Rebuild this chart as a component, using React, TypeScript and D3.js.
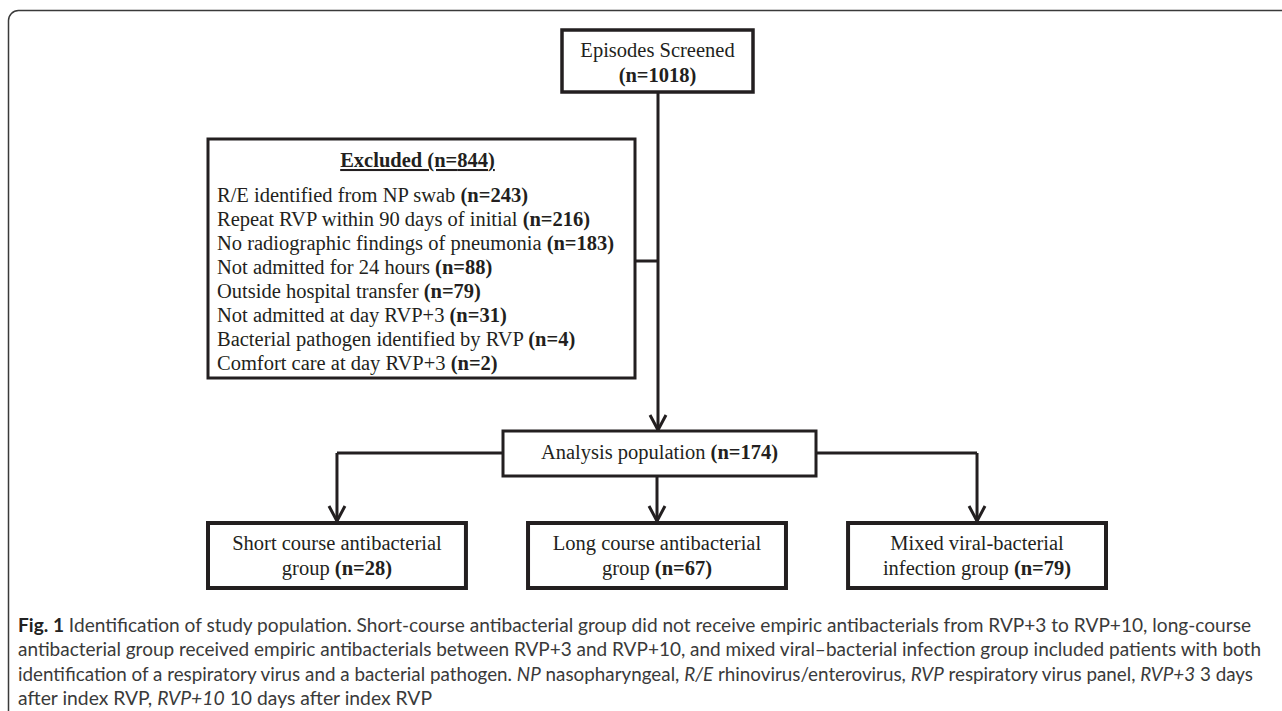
import React from "react";
import * as d3 from "d3";

// ---- data ----
const screenedTitle = "Episodes Screened";
const screenedCount = 1018;
const excludedTotal = 844;
const exclusionReasons = [
  "R/E identified from NP swab",
  "Repeat RVP within 90 days of initial",
  "No radiographic findings of pneumonia",
  "Not admitted for 24 hours",
  "Outside hospital transfer",
  "Not admitted at day RVP+3",
  "Bacterial pathogen identified by RVP",
  "Comfort care at day RVP+3",
];
const exclusionCounts = [243, 216, 183, 88, 79, 31, 4, 2];
const analysisTitle = "Analysis population";
const analysisCount = 174;
const groupLine1 = ["Short course antibacterial", "Long course antibacterial", "Mixed viral-bacterial"];
const groupLine2 = ["group", "group", "infection group"];
const groupCounts = [28, 67, 79];

// caption segments: [text, style] where style: b=bold, i=italic, n=normal
const captionLines: [string, string][][] = [
  [["Fig. 1", "b"], [" Identification of study population. Short-course antibacterial group did not receive empiric antibacterials from RVP+3 to RVP+10, long-course", "n"]],
  [["antibacterial group received empiric antibacterials between RVP+3 and RVP+10, and mixed viral\u2013bacterial infection group included patients with both", "n"]],
  [["identification of a respiratory virus and a bacterial pathogen. ", "n"], ["NP", "i"], [" nasopharyngeal, ", "n"], ["R/E", "i"], [" rhinovirus/enterovirus, ", "n"], ["RVP", "i"], [" respiratory virus panel, ", "n"], ["RVP+3", "i"], [" 3 days", "n"]],
  [["after index RVP, ", "n"], ["RVP+10", "i"], [" 10 days after index RVP", "n"]],
];
const captionLineWidths = [1233, 1243, 1235, 414];

const INK = "#231f20";
const SERIF = "'Liberation Serif', 'Times New Roman', serif";
const SANS = "Lato, 'Open Sans', sans-serif";
const FS = 20.5;

export default function App() {
  const W = 1282, H = 711;

  const gx = d3.scaleBand<number>().domain(d3.range(groupCounts.length)).range([208, 1106]).paddingInner(0.194).paddingOuter(0);
  const groupTop = 523, groupBottom = 588;

  const rowY = d3.scaleLinear().domain([0, exclusionReasons.length - 1]).range([202, 370]);
  const capY = d3.scaleLinear().domain([0, captionLines.length - 1]).range([632, 705]);

  const mainX = 658;
  const topBox = { x0: 562, x1: 753, y0: 30, y1: 92 };
  const exBox = { x0: 208, x1: 635, y0: 139, y1: 378 };
  const anBox = { x0: 503, x1: 816, y0: 431, y1: 476 };
  const branchY = 453;

  const arrow = (x: number, y: number) => `M${x - 8},${y - 15}L${x},${y}L${x + 8},${y - 15}`;
  const centers = groupCounts.map((_, i) => (gx(i) as number) + gx.bandwidth() / 2);

  return (
    <svg width={W} height={H} style={{ position: "absolute", left: 0, top: 0, background: "#fff" }}>
      <rect x={8.5} y={10.5} width={1300} height={760} rx={10} ry={10} fill="none" stroke="#3a3a3a" strokeWidth={1.5} />

      <g stroke={INK} strokeWidth={3} fill="none">
        <line x1={mainX} y1={topBox.y1} x2={mainX} y2={anBox.y0 - 1} />
        <path d={arrow(mainX, anBox.y0 - 1)} />
        <line x1={exBox.x1} y1={261} x2={mainX} y2={261} />
        <line x1={centers[0]} y1={branchY} x2={anBox.x0} y2={branchY} />
        <line x1={anBox.x1} y1={branchY} x2={centers[2]} y2={branchY} />
        <line x1={centers[0]} y1={branchY} x2={centers[0]} y2={groupTop - 2} />
        <line x1={centers[2]} y1={branchY} x2={centers[2]} y2={groupTop - 2} />
        <line x1={centers[1]} y1={anBox.y1} x2={centers[1]} y2={groupTop - 2} />
        {centers.map((c, i) => <path key={i} d={arrow(c, groupTop - 2)} />)}
      </g>

      <rect x={topBox.x0} y={topBox.y0} width={topBox.x1 - topBox.x0} height={topBox.y1 - topBox.y0} fill="#fff" stroke={INK} strokeWidth={3.5} />
      <g fontFamily={SERIF} fontSize={FS} fill={INK} textAnchor="middle">
        <text x={(topBox.x0 + topBox.x1) / 2} y={57}>{screenedTitle}</text>
        <text x={(topBox.x0 + topBox.x1) / 2} y={82} fontWeight="bold">(n={screenedCount})</text>
      </g>

      <rect x={exBox.x0} y={exBox.y0} width={exBox.x1 - exBox.x0} height={exBox.y1 - exBox.y0} fill="#fff" stroke={INK} strokeWidth={3} />
      <g fontFamily={SERIF} fontSize={FS} fill={INK}>
        <text x={(exBox.x0 + exBox.x1) / 2 - 4} y={167} textAnchor="middle" fontWeight="bold" textDecoration="underline">
          Excluded (n={excludedTotal})
        </text>
        {exclusionReasons.map((r, i) => (
          <text key={r} x={exBox.x0 + 9} y={rowY(i)}>
            {r} <tspan fontWeight="bold">(n={exclusionCounts[i]})</tspan>
          </text>
        ))}
      </g>

      <rect x={anBox.x0} y={anBox.y0} width={anBox.x1 - anBox.x0} height={anBox.y1 - anBox.y0} fill="#fff" stroke={INK} strokeWidth={3} />
      <text x={(anBox.x0 + anBox.x1) / 2} y={459} textAnchor="middle" fontFamily={SERIF} fontSize={FS} fill={INK}>
        {analysisTitle} <tspan fontWeight="bold">(n={analysisCount})</tspan>
      </text>

      {groupCounts.map((n, i) => (
        <g key={i}>
          <rect x={gx(i)} y={groupTop} width={gx.bandwidth()} height={groupBottom - groupTop} fill="#fff" stroke={INK} strokeWidth={4} />
          <text x={centers[i]} y={550} textAnchor="middle" fontFamily={SERIF} fontSize={FS} fill={INK}>{groupLine1[i]}</text>
          <text x={centers[i]} y={575} textAnchor="middle" fontFamily={SERIF} fontSize={FS} fill={INK}>
            {groupLine2[i]} <tspan fontWeight="bold">(n={n})</tspan>
          </text>
        </g>
      ))}

      <g fontFamily={SANS} fontSize={18.5} fill="#3a3a3a">
        {captionLines.map((segs, li) => (
          <text key={li} x={18} y={capY(li)} textLength={captionLineWidths[li]} lengthAdjust="spacingAndGlyphs">
            {segs.map(([t, s], si) => (
              <tspan key={si} fontWeight={s === "b" ? "bold" : "normal"} fontStyle={s === "i" ? "italic" : "normal"} fill={s === "b" ? "#222" : "#3a3a3a"} xmlSpace="preserve">{t}</tspan>
            ))}
          </text>
        ))}
      </g>
    </svg>
  );
}
